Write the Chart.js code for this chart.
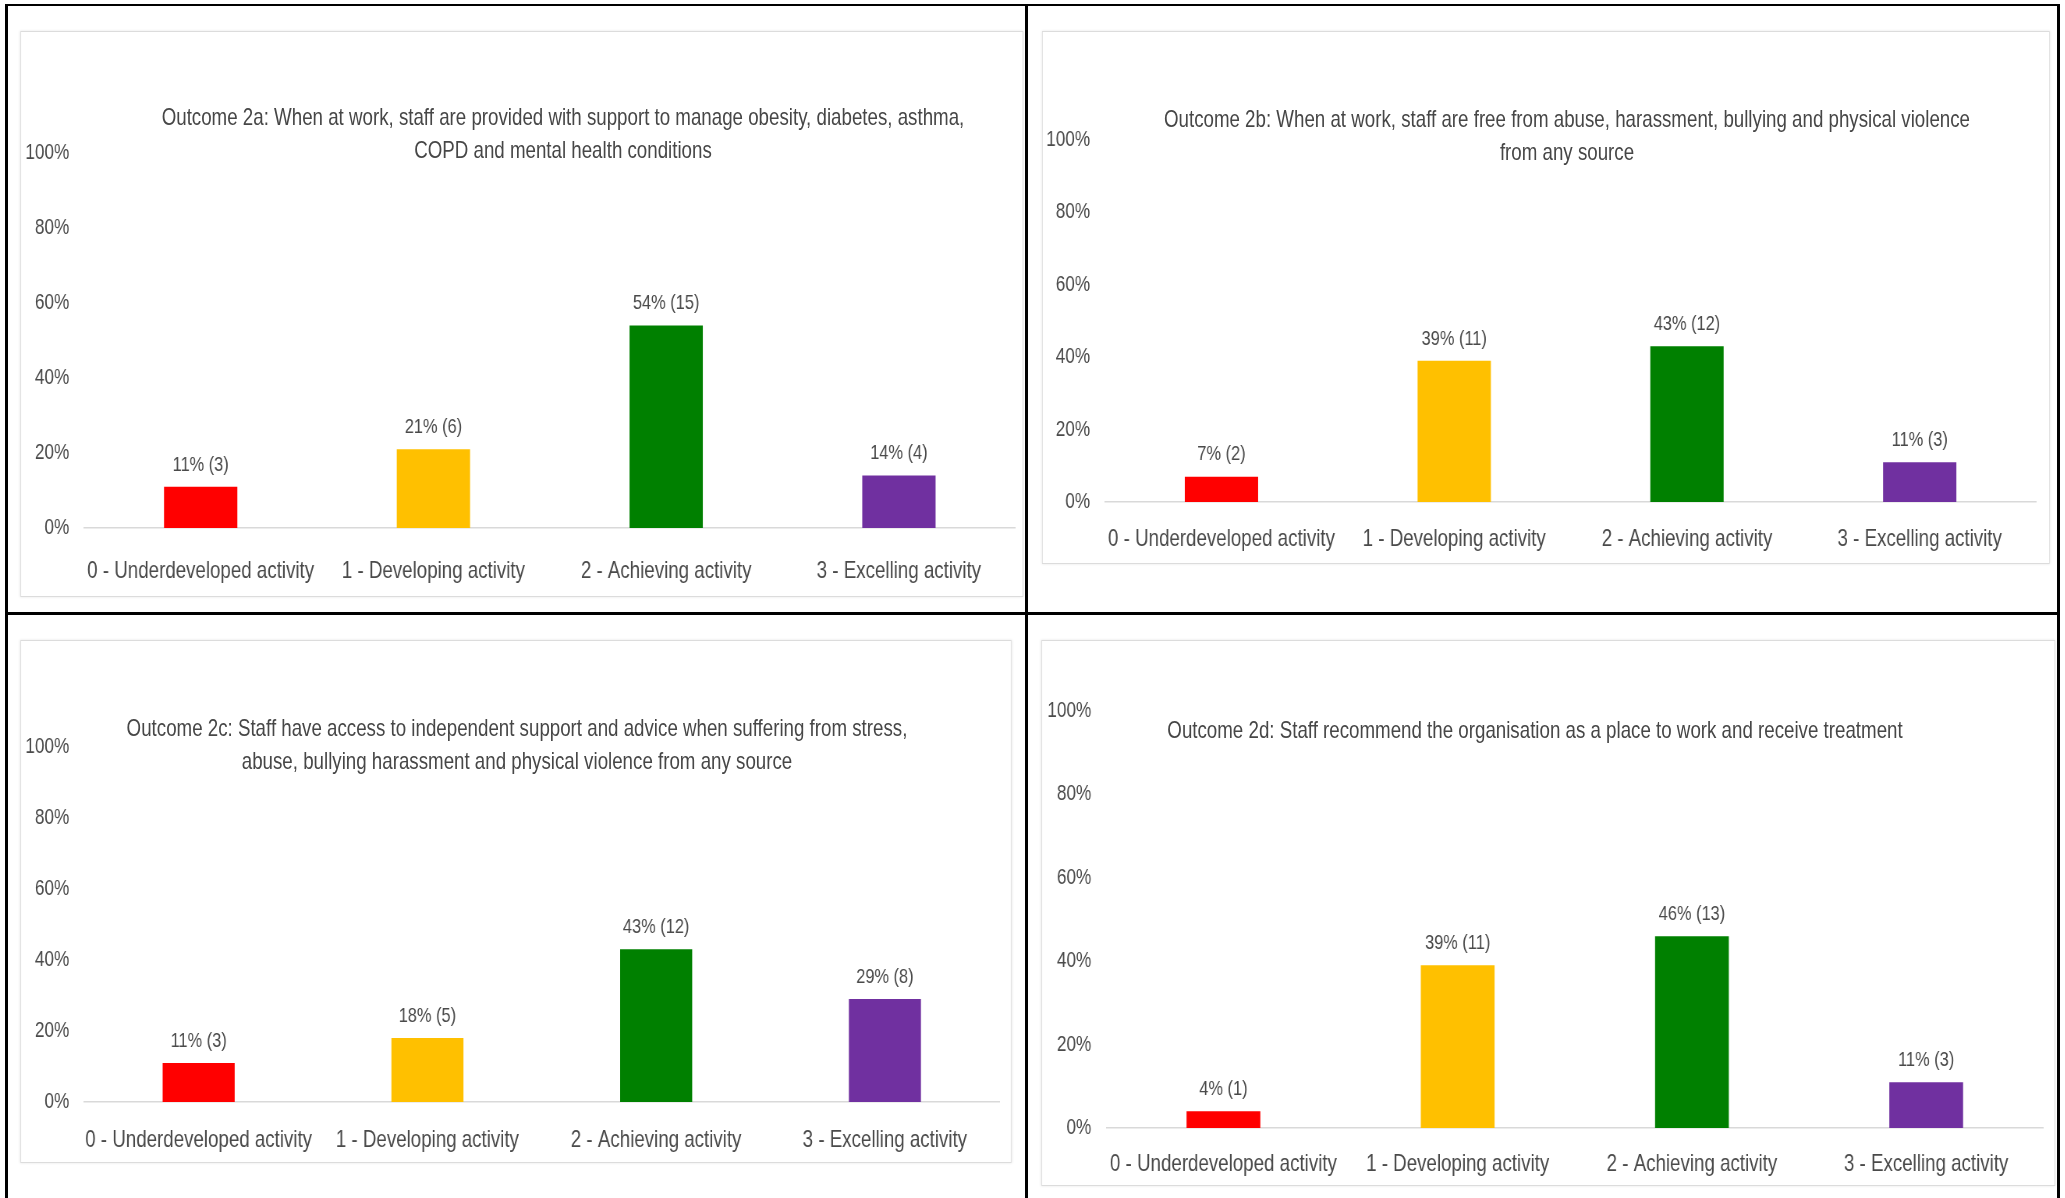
<!DOCTYPE html>
<html>
<head>
<meta charset="utf-8">
<title>Outcome 2 ratings</title>
<script src="https://cdn.jsdelivr.net/npm/chart.js@4.4.1/dist/chart.umd.min.js"></script>
<style>
  html, body { margin: 0; padding: 0; background: #fff; }
  body {
    width: 2065px; height: 1198px; position: relative; overflow: hidden;
    font-family: 'Liberation Sans', Arial, sans-serif;
  }
  .rule { position: absolute; background: #000; z-index: 2; }
  /* the charts use a narrow type face, so the whole stage is squeezed sideways */
  #stage { position: absolute; left: 0; top: 0; height: 1198px; transform-origin: 0 0; }
  .box {
    position: absolute; background: #fff; box-sizing: border-box;
    border: 1px solid #dcdcdc; box-shadow: 0 0 3px rgba(0, 0, 0, 0.10);
  }
  canvas.plot { position: absolute; }
  .title {
    position: absolute; color: #474747; font-size: 24px; line-height: 33px;
    text-align: center; white-space: nowrap; transform: translateX(-50%);
  }
</style>
</head>
<body>

<!-- table grid -->
<div class="rule" style="left:5px; top:4px; width:3px; height:1194px"></div>
<div class="rule" style="left:5px; top:4px; width:2055px; height:2px"></div>
<div class="rule" style="left:2057px; top:4px; width:3px; height:1194px"></div>
<div class="rule" style="left:1025px; top:4px; width:3px; height:1194px"></div>
<div class="rule" style="left:5px; top:612px; width:2055px; height:3px"></div>

<div id="stage"></div>

<script>
// categories and colours shared by all four outcomes
const categories = ['0 - Underdeveloped activity', '1 - Developing activity', '2 - Achieving activity', '3 - Excelling activity'];
const barColours = ['#FF0000', '#FFC000', '#008000', '#7030A0'];
const yTickStep = 20;
const yMax = 100;

// Outcome 2a
const outcome2aTitle = ['Outcome 2a: When at work, staff are provided with support to manage obesity, diabetes, asthma,', 'COPD and mental health conditions'];
const outcome2aPct = [11, 21, 54, 14];
const outcome2aCount = [3, 6, 15, 4];

// Outcome 2b
const outcome2bTitle = ['Outcome 2b: When at work, staff are free from abuse, harassment, bullying and physical violence', 'from any source'];
const outcome2bPct = [7, 39, 43, 11];
const outcome2bCount = [2, 11, 12, 3];

// Outcome 2c
const outcome2cTitle = ['Outcome 2c: Staff have access to independent support and advice when suffering from stress,', 'abuse, bullying harassment and physical violence from any source'];
const outcome2cPct = [11, 18, 43, 29];
const outcome2cCount = [3, 5, 12, 8];

// Outcome 2d
const outcome2dTitle = ['Outcome 2d: Staff recommend the organisation as a place to work and receive treatment'];
const outcome2dPct = [4, 39, 46, 11];
const outcome2dCount = [1, 11, 13, 3];

const textGrey = '#4a4a4a';
const fontFamily = "'Liberation Sans', Arial, sans-serif";
Chart.defaults.font.family = fontFamily;
Chart.defaults.color = textGrey;

// horizontal squeeze applied to the stage (page px = stage px * squeeze)
const squeeze = 0.78;

// page layout: box = [x, y, w, h], plot = [left, top(100%), right, bottom(0%)]
const panels = [
  { title: outcome2aTitle, pct: outcome2aPct, count: outcome2aCount,
    box: [20, 31, 1003, 566], plot: [84, 153, 1015, 528], titleAt: [563, 100], labelPad: 29 },
  { title: outcome2bTitle, pct: outcome2bPct, count: outcome2bCount,
    box: [1042, 31, 1008, 533], plot: [1105, 140, 2036, 502], titleAt: [1567, 102], labelPad: 23 },
  { title: outcome2cTitle, pct: outcome2cPct, count: outcome2cCount,
    box: [20, 640, 992, 523], plot: [84, 747, 999, 1102], titleAt: [517, 711], labelPad: 24 },
  { title: outcome2dTitle, pct: outcome2dPct, count: outcome2dCount,
    box: [1041, 640, 1014, 546], plot: [1106, 711, 2043, 1128], titleAt: [1535, 713], labelPad: 22 }
];

// "54% (15)" style labels above each bar
const valueLabels = {
  id: 'valueLabels',
  afterDatasetsDraw(chart, args, opts) {
    const ctx = chart.ctx;
    const ds = chart.data.datasets[0];
    const meta = chart.getDatasetMeta(0);
    ctx.save();
    ctx.font = opts.size + 'px ' + fontFamily;
    ctx.fillStyle = opts.color;
    ctx.textAlign = 'center';
    ctx.textBaseline = 'middle';
    meta.data.forEach((bar, i) => {
      ctx.fillText(ds.data[i] + '% (' + ds.counts[i] + ')', bar.x, bar.y - opts.lift);
    });
    ctx.restore();
  }
};

const stage = document.getElementById('stage');
stage.style.width = (2065 / squeeze) + 'px';
stage.style.transform = 'scaleX(' + squeeze + ')';

const sx = v => v / squeeze;

panels.forEach(p => {
  const [bx, by, bw, bh] = p.box;
  const [pl, pt, pr, pb] = p.plot;
  const cw = Math.round(sx(bw));

  const box = document.createElement('div');
  box.className = 'box';
  box.style.cssText = `left:${sx(bx)}px; top:${by}px; width:${sx(bw)}px; height:${bh}px`;
  stage.appendChild(box);

  const canvas = document.createElement('canvas');
  canvas.className = 'plot';
  canvas.width = cw;
  canvas.height = bh;
  canvas.style.cssText = `left:${sx(bx)}px; top:${by}px; width:${cw}px; height:${bh}px`;
  stage.appendChild(canvas);

  const title = document.createElement('div');
  title.className = 'title';
  title.style.left = sx(p.titleAt[0]) + 'px';
  title.style.top = p.titleAt[1] + 'px';
  title.innerHTML = p.title.join('<br>');
  stage.appendChild(title);

  new Chart(canvas, {
    type: 'bar',
    data: {
      labels: categories,
      datasets: [{
        data: p.pct,
        counts: p.count,
        backgroundColor: barColours,
        categoryPercentage: 1,
        barPercentage: 0.315
      }]
    },
    options: {
      responsive: false,
      animation: false,
      devicePixelRatio: 1,
      layout: { padding: { top: pt - by, right: cw - sx(pr - bx), left: 0, bottom: 0 } },
      plugins: {
        legend: { display: false },
        tooltip: { enabled: false },
        valueLabels: { size: 21, color: textGrey, lift: 22 }
      },
      scales: {
        x: {
          grid: { display: false, drawTicks: false },
          border: { display: true, color: '#d9d9d9', width: 1.5 },
          ticks: { font: { size: 24 }, color: textGrey, padding: p.labelPad, maxRotation: 0, autoSkip: false },
          afterFit: s => { s.height = by + bh - pb; }
        },
        y: {
          min: 0,
          max: yMax,
          grid: { display: false, drawTicks: false },
          border: { display: false },
          ticks: { stepSize: yTickStep, font: { size: 22 }, color: textGrey, padding: sx(15), callback: v => v + '%' },
          afterFit: s => { s.width = sx(pl - bx); }
        }
      }
    },
    plugins: [valueLabels]
  });
});
</script>
</body>
</html>
